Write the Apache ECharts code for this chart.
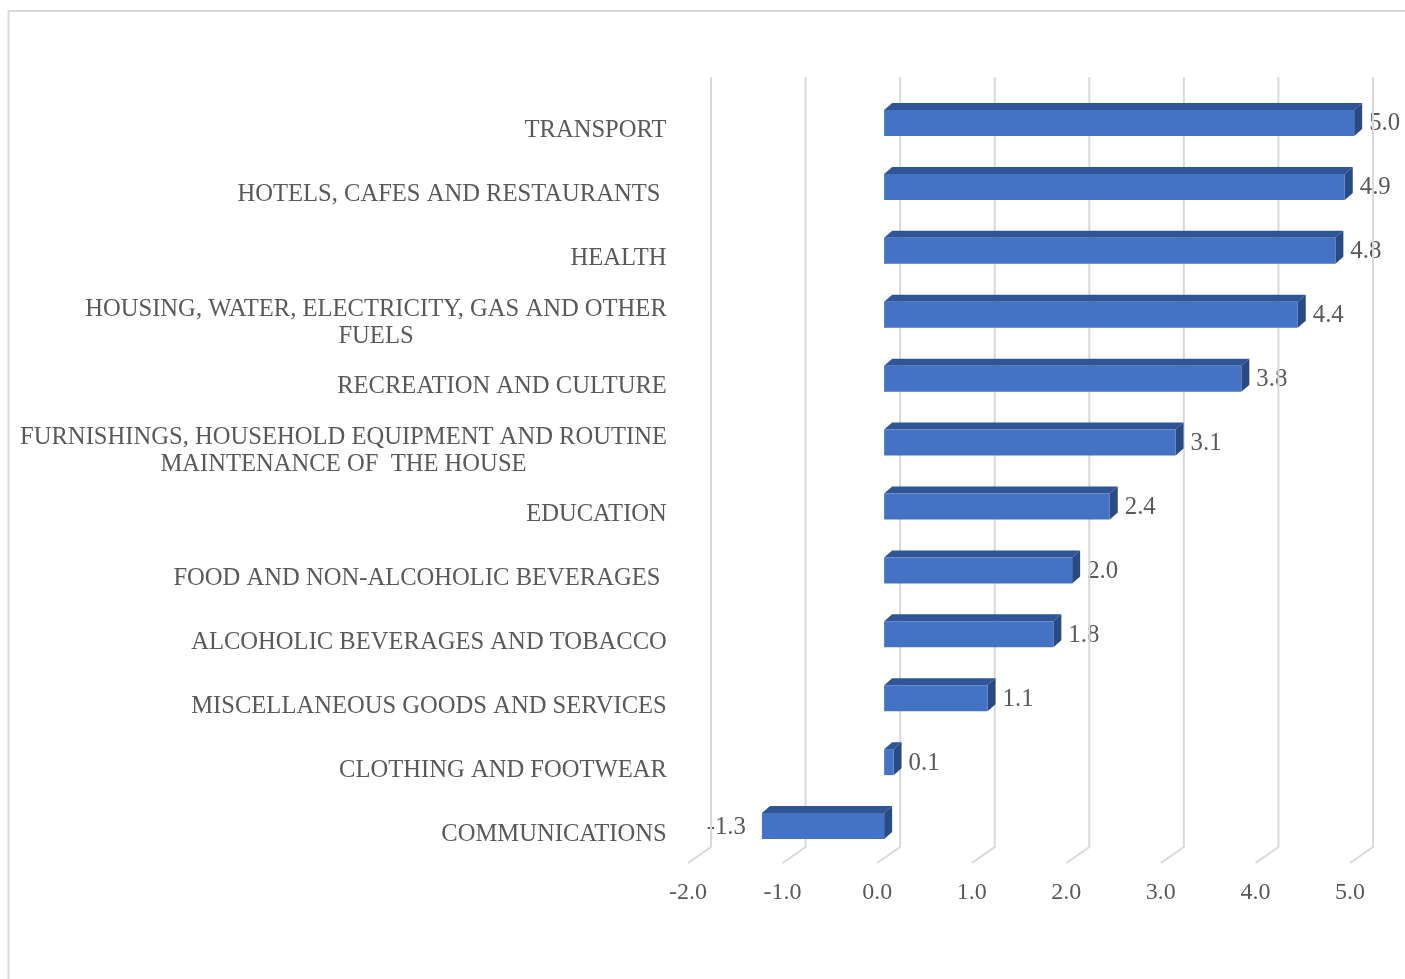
<!DOCTYPE html>
<html>
<head>
<meta charset="utf-8">
<title>Price change by group</title>
<script src="https://cdn.jsdelivr.net/npm/echarts@6/dist/echarts.min.js"></script>
<style>
  html, body { margin: 0; padding: 0; background: #ffffff; }
  #chart { width: 1405px; height: 979px; }
</style>
</head>
<body>
<div id="chart"></div>
<script>
// Groups, top to bottom
const categories = [
  'TRANSPORT',
  'HOTELS, CAFES AND RESTAURANTS ',
  'HEALTH',
  'HOUSING, WATER, ELECTRICITY, GAS AND OTHER\nFUELS',
  'RECREATION AND CULTURE',
  'FURNISHINGS, HOUSEHOLD EQUIPMENT AND ROUTINE\nMAINTENANCE OF  THE HOUSE',
  'EDUCATION',
  'FOOD AND NON-ALCOHOLIC BEVERAGES ',
  'ALCOHOLIC BEVERAGES AND TOBACCO',
  'MISCELLANEOUS GOODS AND SERVICES',
  'CLOTHING AND FOOTWEAR',
  'COMMUNICATIONS'
];
// Change per group
const values = [5.0, 4.9, 4.8, 4.4, 3.8, 3.1, 2.4, 2.0, 1.8, 1.1, 0.1, -1.3];
// Value-axis ticks
const ticks = [-2, -1, 0, 1, 2, 3, 4, 5];

const FONT = "'Liberation Serif', 'Times New Roman', serif";
const TEXT_COLOR = '#595959';
const GRID_COLOR = '#d9d9d9';
const CAT_SIZE = 24.6;
const VAL_SIZE = 24.8;

// Measure label lines so two-line labels can be centred inside their block
const measureCtx = document.createElement('canvas').getContext('2d');
measureCtx.font = CAT_SIZE + 'px ' + FONT;
const rich = {};
categories.forEach((c, i) => {
  const w = Math.max(...c.split('\n').map(s => measureCtx.measureText(s).width));
  rich['r' + i] = {
    width: Math.ceil(w),
    align: 'center',
    fontSize: CAT_SIZE,
    fontFamily: FONT,
    color: TEXT_COLOR,
    lineHeight: 27
  };
});

const chart = echarts.init(document.getElementById('chart'), null, { renderer: 'canvas' });

// 3D depth offsets
const BACK = [23, -16];      // back wall relative to front floor edge
const BAR_SHIFT = 7;         // bar front face behind the floor edge
const BAR_SCALE = 0.994;
const BAR_DEPTH = [8, -7];
const BAR_H = 26;

const option = {
  backgroundColor: '#ffffff',
  animation: false,
  graphic: [{
    type: 'rect',
    x: 0, y: 0,
    shape: { x: 8.5, y: 11, width: 1420, height: 1000 },
    style: { fill: 'none', stroke: GRID_COLOR, lineWidth: 2 },
    silent: true, z: 0
  }],
  grid: { left: 688, right: 55, top: 97, bottom: 115, containLabel: false },
  xAxis: {
    type: 'value',
    min: -2, max: 5, interval: 1,
    axisLine: { show: false },
    axisTick: { show: false },
    splitLine: { show: false },
    axisLabel: {
      margin: 17,
      fontSize: 24,
      fontFamily: FONT,
      color: TEXT_COLOR,
      formatter: v => v.toFixed(1)
    }
  },
  yAxis: {
    type: 'category',
    inverse: true,
    data: categories,
    axisLine: { show: false },
    axisTick: { show: false },
    splitLine: { show: false },
    axisLabel: {
      margin: 21,
      align: 'right',
      padding: [4, 0, 0, 0],
      formatter: (v, i) => v.split('\n').map(s => '{r' + i + '|' + s + '}').join('\n'),
      rich: rich
    }
  },
  series: [
    {
      // value labels, placed beyond each bar's end
      type: 'custom',
      z: 1,
      data: values.map((v, i) => [v, i]),
      renderItem: (params, api) => {
        const v = api.value(0), idx = api.value(1);
        const c0 = api.coord([0, idx]), c1 = api.coord([v, idx]);
        const x0 = c0[0] + BAR_SHIFT;
        const x1 = x0 + (c1[0] - c0[0]) * BAR_SCALE;
        const xa = Math.min(x0, x1), xb = Math.max(x0, x1);
        const yc = c1[1] - 6;
        const pos = v >= 0;
        return {
          type: 'text',
          style: {
            text: v.toFixed(1),
            x: pos ? xb + BAR_DEPTH[0] + 7 : xa - 16,
            y: yc + 1,
            align: pos ? 'left' : 'right',
            verticalAlign: 'middle',
            font: VAL_SIZE + 'px ' + FONT,
            fill: TEXT_COLOR
          }
        };
      }
    },
    {
      // back-wall gridlines bending onto the floor
      type: 'custom',
      z: 2,
      data: ticks.map(t => [t, 0]),
      renderItem: (params, api) => {
        const cs = params.coordSys;
        const x = api.coord([api.value(0), 0])[0];
        const yFloor = cs.y + cs.height - 1;
        return {
          type: 'polyline',
          shape: {
            points: [
              [x + BACK[0], cs.y - 20],
              [x + BACK[0], yFloor + BACK[1]],
              [x, yFloor]
            ]
          },
          style: { stroke: GRID_COLOR, lineWidth: 2, fill: null }
        };
      }
    },
    {
      // bars drawn as boxes: front, top and end faces
      type: 'custom',
      z: 3,
      data: values.map((v, i) => [v, i]),
      renderItem: (params, api) => {
        const v = api.value(0), idx = api.value(1);
        const c0 = api.coord([0, idx]), c1 = api.coord([v, idx]);
        const x0 = c0[0] + BAR_SHIFT;
        const x1 = x0 + (c1[0] - c0[0]) * BAR_SCALE;
        const xa = Math.min(x0, x1), xb = Math.max(x0, x1);
        const yc = c1[1] - 6;
        const yt = yc - BAR_H / 2, yb = yc + BAR_H / 2;
        const dx = BAR_DEPTH[0], dy = BAR_DEPTH[1];
        return {
          type: 'group',
          children: [
            {
              type: 'polygon',
              shape: { points: [[xa, yt], [xb, yt], [xb + dx, yt + dy], [xa + dx, yt + dy]] },
              style: { fill: '#2F5597' }
            },
            {
              type: 'polygon',
              shape: { points: [[xb, yt], [xb + dx, yt + dy], [xb + dx, yb + dy], [xb, yb]] },
              style: { fill: '#284A85' }
            },
            {
              type: 'rect',
              shape: { x: xa, y: yt, width: xb - xa, height: BAR_H },
              style: { fill: '#4472C4' }
            }
          ]
        };
      }
    }
  ]
};

chart.setOption(option);
</script>
</body>
</html>
